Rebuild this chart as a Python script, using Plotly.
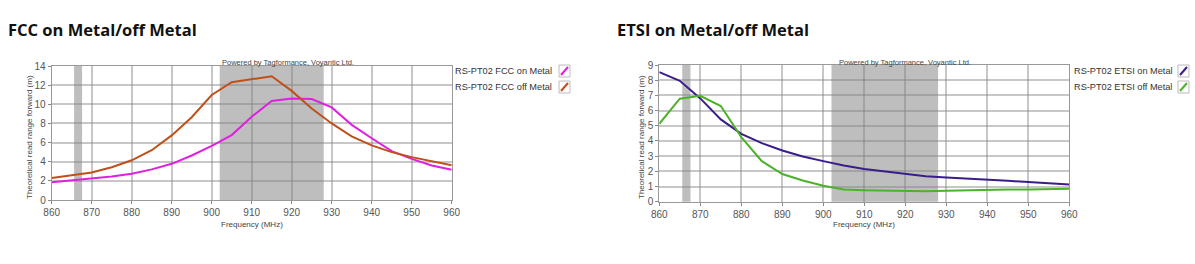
import plotly.graph_objects as go

W, H = 1195, 264

freq = [860, 865, 870, 875, 880, 885, 890, 895, 900, 905, 910,
        915, 920, 925, 930, 935, 940, 945, 950, 955, 960]
fcc_on = [1.85, 2.07, 2.25, 2.45, 2.75, 3.2, 3.78, 4.65, 5.65, 6.78, 8.7,
          10.35, 10.6, 10.55, 9.67, 7.85, 6.45, 5.1, 4.3, 3.6, 3.15]
fcc_off = [2.3, 2.62, 2.87, 3.43, 4.15, 5.2, 6.75, 8.65, 10.97, 12.3, 12.62,
           12.93, 11.4, 9.55, 8.0, 6.65, 5.7, 5.0, 4.48, 4.05, 3.62]
etsi_on = [8.53, 7.96, 6.8, 5.42, 4.47, 3.86, 3.37, 2.98, 2.67, 2.38, 2.16,
           2.0, 1.86, 1.68, 1.59, 1.53, 1.46, 1.38, 1.29, 1.2, 1.14]
etsi_off = [5.13, 6.78, 6.97, 6.3, 4.25, 2.67, 1.82, 1.4, 1.05, 0.81, 0.76,
            0.72, 0.68, 0.68, 0.72, 0.76, 0.76, 0.8, 0.81, 0.85, 0.85]
bands = [(865.6, 867.6), (902, 928)]

titles = ["FCC on Metal/off Metal", "ETSI on Metal/off Metal"]
names_left = ["RS-PT02 FCC on Metal", "RS-PT02 FCC off Metal"]
names_right = ["RS-PT02 ETSI on Metal", "RS-PT02 ETSI off Metal"]
c_fcc_on, c_fcc_off = "#E020E0", "#C0501A"
c_etsi_on, c_etsi_off = "#3B1C8C", "#4CB22A"


def px(x):
    return x / W


def py(y):
    return 1 - y / H


fig = go.Figure()
fig.add_trace(go.Scatter(x=freq, y=fcc_on, mode="lines", name=names_left[0],
                         line=dict(color=c_fcc_on, width=2), xaxis="x", yaxis="y"))
fig.add_trace(go.Scatter(x=freq, y=fcc_off, mode="lines", name=names_left[1],
                         line=dict(color=c_fcc_off, width=2), xaxis="x", yaxis="y"))
fig.add_trace(go.Scatter(x=freq, y=etsi_on, mode="lines", name=names_right[0],
                         line=dict(color=c_etsi_on, width=2), xaxis="x2", yaxis="y2"))
fig.add_trace(go.Scatter(x=freq, y=etsi_off, mode="lines", name=names_right[1],
                         line=dict(color=c_etsi_off, width=2), xaxis="x2", yaxis="y2"))

tickfont = dict(family="Liberation Sans", size=10, color="#555")
grid = "rgba(130,130,130,0.45)"
axcommon = dict(showgrid=True, gridcolor=grid, gridwidth=1.5, showline=True,
                linecolor="#999", linewidth=1, mirror=True, ticks="outside",
                ticklen=3, tickcolor="#888", tickfont=tickfont, zeroline=False,
                fixedrange=True, automargin=False)

fig.update_layout(
    width=W, height=H, margin=dict(l=0, r=0, t=0, b=0),
    paper_bgcolor="white", plot_bgcolor="white", showlegend=False,
    xaxis=dict(domain=[px(51.7), px(451.7)], range=[860, 960], dtick=10,
               anchor="y", **axcommon),
    yaxis=dict(domain=[py(200), py(66)], range=[0, 14], dtick=2,
               anchor="x", **axcommon),
    xaxis2=dict(domain=[px(659.3), px(1069.3)], range=[860, 960], dtick=10,
                anchor="y2", **axcommon),
    yaxis2=dict(domain=[py(201.7), py(65)], range=[0, 9], dtick=1,
                anchor="x2", **axcommon),
)

shapes = []
for xr, yr in (("x", "y domain"), ("x2", "y2 domain")):
    for b0, b1 in bands:
        shapes.append(dict(type="rect", xref=xr, yref=yr, x0=b0, x1=b1, y0=0, y1=1,
                           fillcolor="#BEBEBE", line=dict(width=0), layer="below"))

annos = []
tfont = dict(family="Open Sans", size=16.5, color="#111")
annos.append(dict(text="<b>" + titles[0] + "</b>", x=px(6), y=py(29), xref="paper",
                  yref="paper", xanchor="left", yanchor="middle", showarrow=False,
                  font=tfont))
annos.append(dict(text="<b>" + titles[1] + "</b>", x=px(615), y=py(29), xref="paper",
                  yref="paper", xanchor="left", yanchor="middle", showarrow=False,
                  font=tfont))

small = dict(family="Liberation Sans", size=8, color="#444")
for cx in (288, 905):
    annos.append(dict(text="Powered by Tagformance, Voyantic Ltd.", x=px(cx), y=py(62),
                      xref="paper", yref="paper", xanchor="center", yanchor="middle",
                      showarrow=False, font=dict(family="Liberation Sans", size=7.5,
                                                 color="#444")))
for ytx, pcx, ycy in ((29, 251.7, 137), (641, 864.3, 137)):
    annos.append(dict(text="Theoretical read range forward (m)", x=px(ytx), y=py(ycy),
                      xref="paper", yref="paper", xanchor="center", yanchor="middle",
                      textangle=-90, showarrow=False, font=small))
    annos.append(dict(text="Frequency (MHz)", x=px(pcx), y=py(224), xref="paper",
                      yref="paper", xanchor="center", yanchor="middle",
                      showarrow=False, font=small))

lfont = dict(family="Liberation Sans", size=9.2, color="#333")
for names, colors, tx, sx in ((names_left, (c_fcc_on, c_fcc_off), 453, 559),
                              (names_right, (c_etsi_on, c_etsi_off), 1072, 1178)):
    for i, (nm, col) in enumerate(zip(names, colors)):
        yc = 71 + 16 * i
        annos.append(dict(text=nm, x=px(tx), y=py(yc), xref="paper", yref="paper",
                          xanchor="left", yanchor="middle", showarrow=False, font=lfont))
        shapes.append(dict(type="rect", xref="paper", yref="paper", x0=px(sx),
                           x1=px(sx + 11), y0=py(yc + 6), y1=py(yc - 6),
                           line=dict(color="#BBB", width=1), fillcolor="white"))
        shapes.append(dict(type="line", xref="paper", yref="paper", x0=px(sx + 2),
                           x1=px(sx + 9), y0=py(yc + 4), y1=py(yc - 4),
                           line=dict(color=col, width=2)))

fig.update_layout(shapes=shapes, annotations=annos)
fig.write_html(
    "out.html",
    post_script="document.body.style.margin='0';document.body.style.overflow='hidden';",
)
